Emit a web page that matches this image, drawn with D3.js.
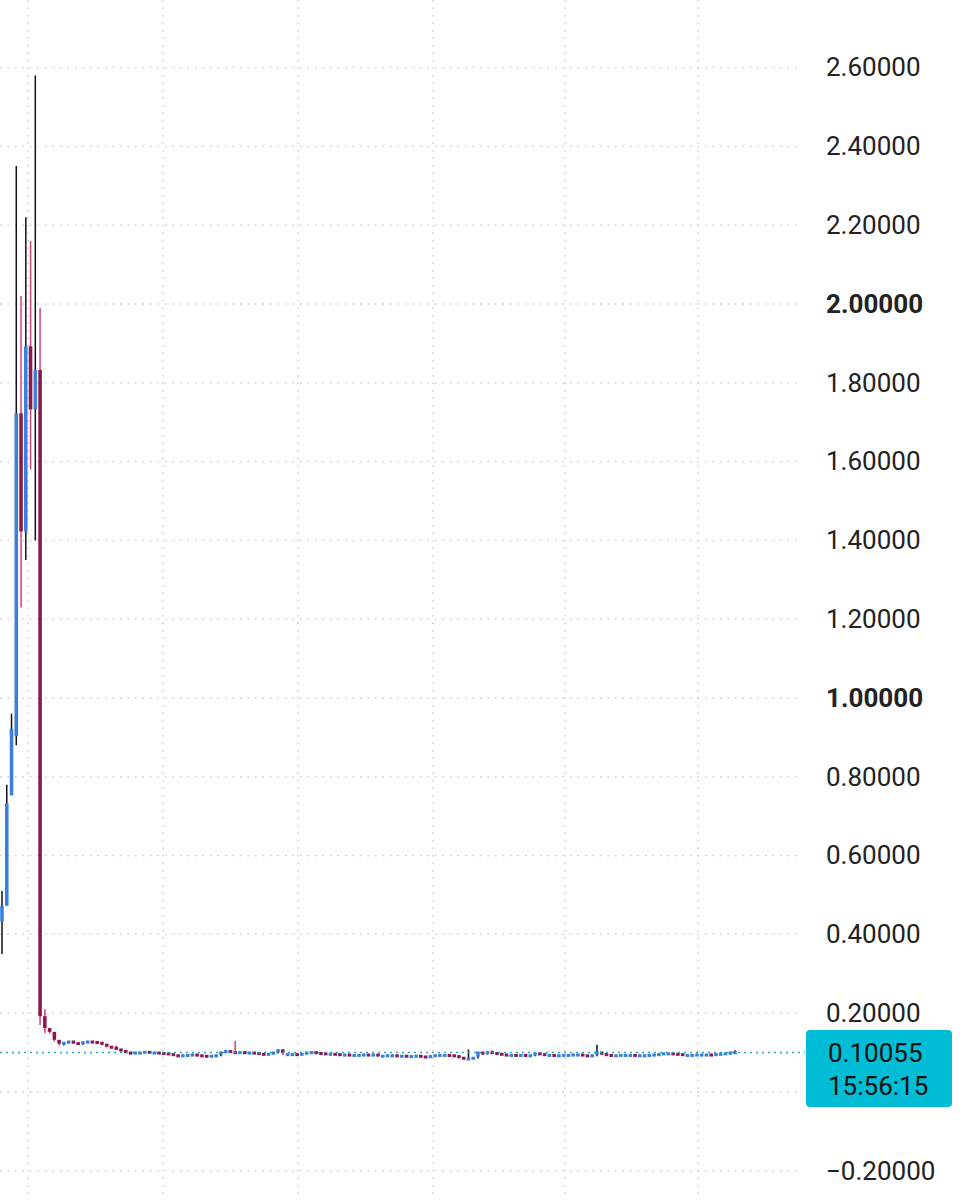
<!DOCTYPE html><html><head><meta charset="utf-8"><script src="https://cdn.jsdelivr.net/npm/d3@7"></script>
<style>body{margin:0;background:#fff}</style></head><body><svg id="c" width="976" height="1200"></svg>
<script>
const tickValues=[2.6,2.4,2.2,2.0,1.8,1.6,1.4,1.2,1.0,0.8,0.6,0.4,0.2,-0.2];
const boldTicks=[2.0,1.0];
const vGridX=[28,163,298,433,565,698];
// early candles: open, close, high, low
const earlyOpen =[0.43,0.47,0.75,0.90,1.72,1.42,1.89,1.73,1.83,0.19];
const earlyClose=[0.47,0.73,0.92,1.72,1.42,1.89,1.73,1.83,0.19,0.16];
const earlyHigh =[0.51,0.78,0.96,2.35,2.02,2.22,2.16,2.58,1.99,0.21];
const earlyLow  =[0.35,0.63,0.85,0.88,1.23,1.35,1.58,1.40,0.17,0.15];
const laterClose=[0.15,0.13,0.12,0.125,0.128,0.124,0.122,0.126,0.128,0.127,0.125,0.12,0.115,0.112,0.108,0.104,0.1,0.099,0.1,0.1,0.102,0.1,0.1,0.099,0.098,0.096,0.093,0.092,0.093,0.094,0.095,0.093,0.092,0.091,0.092,0.093,0.1,0.104,0.101,0.1,0.101,0.1,0.1,0.099,0.097,0.095,0.097,0.1,0.106,0.096,0.096,0.096,0.095,0.097,0.1,0.101,0.099,0.098,0.096,0.097,0.096,0.095,0.095,0.094,0.094,0.094,0.095,0.094,0.095,0.092,0.092,0.093,0.093,0.092,0.092,0.091,0.091,0.092,0.09,0.089,0.091,0.093,
0.094,0.094,0.093,0.091,0.087,0.085,0.085,0.087,0.1,0.097,0.101,0.099,0.097,0.095,0.094,0.094,0.093,0.094,0.093,0.093,0.098,0.096,0.094,0.094,0.093,0.093,0.094,0.094,0.095,0.095,0.093,0.091,0.093,0.1,0.096,0.094,0.093,0.093,0.094,0.094,0.094,0.093,0.093,0.093,0.094,0.095,0.096,0.098,0.098,0.097,0.096,0.094,0.094,0.094,0.095,0.095,0.095,0.094,0.096,0.097,0.098,0.1,0.101];
const spikeIdx=[24,49,98,103,125,154];
const spikeHigh=[0.118,0.13,0.108,0.106,0.12,0.106];
const lastPrice=0.10055, lastTime="15:56:15";

const data=[];
earlyOpen.forEach((o,i)=>data.push({o,c:earlyClose[i],h:earlyHigh[i],l:earlyLow[i]}));
let prev=earlyClose[earlyClose.length-1];
laterClose.forEach(c=>{data.push({o:prev,c,h:Math.max(prev,c)+0.002,l:Math.min(prev,c)-0.002});prev=c;});
spikeIdx.forEach((k,j)=>{if(data[k])data[k].h=Math.max(data[k].h,spikeHigh[j]);});

const svg=d3.select("#c");
const y=d3.scaleLinear().domain([0,1]).range([1092,698]);
const x=d3.scaleLinear().domain([0,data.length-1]).range([2,735]);
const bw=Math.max(2.5,(x(1)-x(0))*0.75);

const g=svg.append("g");
tickValues.concat([0]).forEach(v=>g.append("line").attr("x1",0).attr("x2",800).attr("y1",y(v)).attr("y2",y(v))
 .attr("stroke","#c8c8c8").attr("stroke-width",1.3).attr("stroke-dasharray","1.5,6"));
vGridX.forEach(v=>g.append("line").attr("x1",v).attr("x2",v).attr("y1",0).attr("y2",1200)
 .attr("stroke","#c8c8c8").attr("stroke-width",1.3).attr("stroke-dasharray","1.5,6"));

const cs=svg.append("g").selectAll("g").data(data).join("g");
cs.append("line").attr("x1",(d,i)=>x(i)).attr("x2",(d,i)=>x(i)).attr("y1",d=>y(d.h)).attr("y2",d=>y(d.l))
 .attr("stroke",d=>d.c>=d.o?"#111":"#d8407a").attr("stroke-width",1.5);
cs.append("rect").attr("x",(d,i)=>x(i)-bw/2).attr("width",bw)
 .attr("y",d=>y(Math.max(d.o,d.c))-1).attr("height",d=>Math.max(3,Math.abs(y(d.o)-y(d.c))))
 .attr("fill",d=>d.c>=d.o?"#3a7fe0":"#8a1a4e");

svg.append("line").attr("x1",0).attr("x2",805).attr("y1",y(lastPrice)).attr("y2",y(lastPrice))
 .attr("stroke","#26a6c4").attr("stroke-width",1.5).attr("stroke-dasharray","2,4");

const ax=svg.append("g").attr("transform","translate(826,0)")
 .call(d3.axisRight(y).tickValues(tickValues).tickSize(0).tickPadding(0).tickFormat(v=>d3.format(".5f")(v).replace("-","\u2212")));
ax.select(".domain").remove();
ax.selectAll("text").attr("font-family","Roboto").attr("font-size",26).attr("fill","#222")
 .attr("font-weight",v=>boldTicks.includes(v)?"bold":"normal");

svg.append("rect").attr("x",806).attr("y",1030).attr("width",146).attr("height",77).attr("rx",4).attr("fill","#00bcd4");
svg.append("text").attr("x",828).attr("y",1062).text(d3.format(".5f")(lastPrice)).attr("font-family","Roboto").attr("font-size",26).attr("fill","#111");
svg.append("text").attr("x",828).attr("y",1095).text(lastTime).attr("font-family","Roboto").attr("font-size",26).attr("fill","#111");
</script></body></html>
